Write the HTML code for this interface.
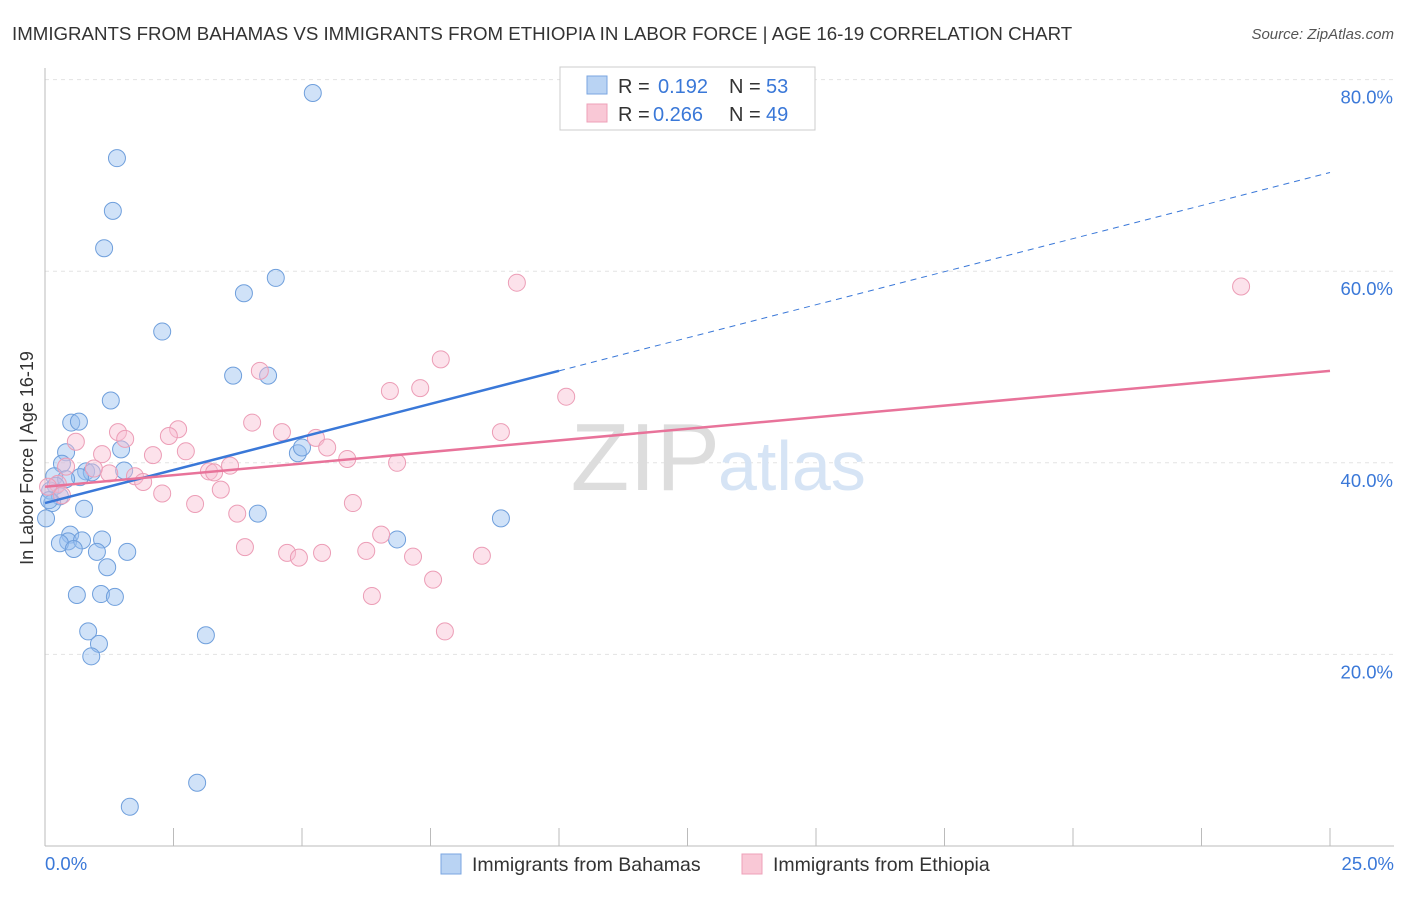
<!DOCTYPE html>
<html><head><meta charset="utf-8"><style>
body{margin:0;background:#fff;font-family:"Liberation Sans",sans-serif}
svg text{font-family:"Liberation Sans",sans-serif}
</style></head><body>
<svg width="1406" height="892">
<text x="12" y="40" font-size="18.7" fill="#333">IMMIGRANTS FROM BAHAMAS VS IMMIGRANTS FROM ETHIOPIA IN LABOR FORCE | AGE 16-19 CORRELATION CHART</text>
<text x="1394" y="39" font-size="15" fill="#555" text-anchor="end" font-style="italic">Source: ZipAtlas.com</text>
<g id="grid"></g>
<text x="720" y="490" font-size="96" fill="#ddd" text-anchor="end" font-family="Liberation Serif">ZIP</text>
<text x="718" y="490" font-size="70" fill="#d6e4f5">atlas</text>
<text x="33" y="458" font-size="18" fill="#333" text-anchor="middle" transform="rotate(-90 33 458)">In Labor Force | Age 16-19</text>
<g id="marks"></g>
<g>
<rect x="560" y="67" width="255" height="63" fill="#fff" stroke="#ccc"/>
<rect x="587" y="76" width="20" height="18" fill="#b9d3f3" stroke="#7aa6e0"/>
<rect x="587" y="104" width="20" height="18" fill="#f9c8d6" stroke="#eea0b8"/>
<text x="618" y="93" font-size="20" fill="#333">R =</text>
<text x="658" y="93" font-size="20" fill="#3a78d8">0.192</text>
<text x="729" y="93" font-size="20" fill="#333">N =</text>
<text x="766" y="93" font-size="20" fill="#3a78d8">53</text>
<text x="618" y="121" font-size="20" fill="#333">R =</text>
<text x="653" y="121" font-size="20" fill="#3a78d8">0.266</text>
<text x="729" y="121" font-size="20" fill="#333">N =</text>
<text x="766" y="121" font-size="20" fill="#3a78d8">49</text>
</g>
<g>
<rect x="441" y="854" width="20" height="20" fill="#b9d3f3" stroke="#7aa6e0"/>
<text x="472" y="871" font-size="19.5" fill="#333">Immigrants from Bahamas</text>
<rect x="742" y="854" width="20" height="20" fill="#f9c8d6" stroke="#eea0b8"/>
<text x="773" y="871" font-size="19.5" fill="#333">Immigrants from Ethiopia</text>
</g>
</svg>
<script>
const xTicks=[0,2.5,5,7.5,10,12.5,15,17.5,20,22.5,25];
const yTicks=[20,40,60,80];
const blueX=[5.21,1.40,1.32,1.15,4.49,3.87,2.28,3.66,4.34,1.28,0.51,0.66,1.48,0.41,4.92,5.0,0.33,1.54,0.80,0.91,0.68,0.18,0.41,0.21,0.10,0.29,0.14,0.76,0.02,4.14,8.87,0.49,0.45,0.29,0.72,1.11,6.85,0.56,1.01,1.60,1.21,0.62,1.09,1.36,0.84,1.05,0.90,3.13,2.96,1.65,0.08];
const blueY=[78.6,71.8,66.3,62.4,59.3,57.7,53.7,49.1,49.1,46.5,44.2,44.3,41.4,41.1,41.0,41.6,39.9,39.2,39.1,39.0,38.5,38.6,38.3,37.6,37.1,36.5,35.8,35.2,34.2,34.7,34.2,32.5,31.8,31.6,31.9,32.0,32.0,31.0,30.7,30.7,29.1,26.2,26.3,26.0,22.4,21.1,19.8,22.0,6.6,4.1,36.1];
const pinkX=[9.18,23.27,7.70,4.18,6.71,7.30,10.14,4.03,2.59,1.42,2.41,4.61,8.87,5.27,1.56,0.60,5.49,2.74,1.11,2.10,5.88,6.85,3.60,0.41,3.19,3.29,1.25,1.75,0.95,1.91,0.25,0.06,2.28,3.42,0.33,2.92,5.99,3.74,6.54,3.89,6.25,4.71,5.39,4.94,7.16,8.50,7.55,6.36,7.78];
const pinkY=[58.8,58.4,50.8,49.6,47.5,47.8,46.9,44.2,43.5,43.2,42.8,43.2,43.2,42.6,42.5,42.2,41.6,41.2,40.9,40.8,40.4,40.0,39.7,39.6,39.1,39.0,38.9,38.6,39.4,38.0,37.8,37.5,36.8,37.2,36.6,35.7,35.8,34.7,32.5,31.2,30.8,30.6,30.6,30.1,30.2,30.3,27.8,26.1,22.4];
const blueTrend=[35.8,49.6];
const pinkTrend=[37.5,49.6];
const X=v=>45+v/25*1285;
const Y=v=>846-v*9.58;
const NS="http://www.w3.org/2000/svg";
function mk(t,a,p){const e=document.createElementNS(NS,t);for(const k in a)e.setAttribute(k,a[k]);p.appendChild(e);return e;}
const g=document.getElementById('grid');
yTicks.forEach(v=>{
 const l=mk('line',{x1:45,x2:1394,y1:Y(v),y2:Y(v),stroke:'#e3e3e3','stroke-dasharray':'4,4'},g);
 
 
 const t=mk('text',{x:1393,y:Y(v)+24,'font-size':18.5,fill:'#3a78d8','text-anchor':'end'},g);t.textContent=v.toFixed(1)+'%';
 
 
});
mk('line',{x1:45,x2:45,y1:68,y2:846,stroke:'#bbb'},g);
mk('line',{x1:45,x2:1394,y1:846,y2:846,stroke:'#bbb'},g);
xTicks.forEach(v=>{const l=mk('line',{x1:X(v),x2:X(v),y1:828,y2:846,stroke:'#bbb'},g);
 
 });
[[0,'0.0%','start',45],[25,'25.0%','end',1394]].forEach(a=>{const t=mk('text',{x:a[3],y:870,'font-size':18.5,fill:'#3a78d8','text-anchor':a[2]},g);t.textContent=a[1];
 
 });
const m=document.getElementById('marks');
blueX.forEach((x,i)=>{const c=mk('circle',{cx:X(x),cy:Y(blueY[i]),r:8.5,fill:'rgba(150,190,240,0.45)',stroke:'#6f9fdc','stroke-width':1},m);
 
 });
pinkX.forEach((x,i)=>{const c=mk('circle',{cx:X(x),cy:Y(pinkY[i]),r:8.5,fill:'rgba(248,190,210,0.45)',stroke:'#ec9db6','stroke-width':1},m);
 
 });
const bs=(blueTrend[1]-blueTrend[0])/10;
const b1=mk('line',{x1:X(0),y1:Y(blueTrend[0]),x2:X(10),y2:Y(blueTrend[1]),stroke:'#3a78d8','stroke-width':2.5},m);


const b2=mk('line',{x1:X(10),y1:Y(blueTrend[1]),x2:X(25),y2:Y(blueTrend[0]+bs*25),stroke:'#3a78d8','stroke-width':1,'stroke-dasharray':'6,5'},m);


const p1=mk('line',{x1:X(0),y1:Y(pinkTrend[0]),x2:X(25),y2:Y(pinkTrend[1]),stroke:'#e8739a','stroke-width':2.5},m);


</script>
</body></html>
